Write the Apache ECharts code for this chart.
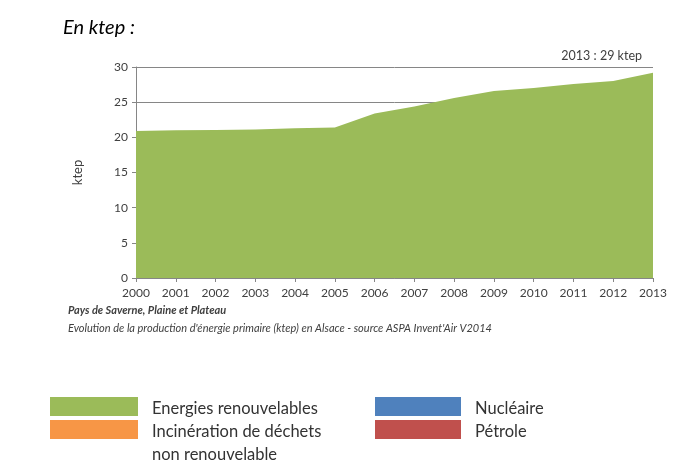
<!DOCTYPE html>
<html><head><meta charset="utf-8">
<script src="https://cdn.jsdelivr.net/npm/echarts@6/dist/echarts.min.js"></script>
<style>html,body{margin:0;padding:0;background:#fff}#c{width:689px;height:474px}</style>
</head><body><div id="c"></div>
<script>
const years = ['2000','2001','2002','2003','2004','2005','2006','2007','2008','2009','2010','2011','2012','2013'];
const renouvelables = [20.9, 21.0, 21.05, 21.1, 21.3, 21.4, 23.4, 24.4, 25.6, 26.6, 27.0, 27.6, 28.0, 29.2];
const yTicks = [0, 5, 10, 15, 20, 25, 30];
const legendLeft = ['Energies renouvelables', 'Incinération de déchets\nnon renouvelable'];
const legendRight = ['Nucléaire', 'Pétrole'];
const colorsLeft = ['#9BBB59', '#F79646'];
const colorsRight = ['#4F81BD', '#C0504D'];
const FONT = 'Lato, "Open Sans", sans-serif';

const chart = echarts.init(document.getElementById('c'));
const graphics = [
  {type:'text', left:63, top:18, style:{text:'En ktep :', font:'italic 20px '+FONT, fill:'#000'}},
  {type:'text', right:47, top:49, style:{text:'2013 : 29 ktep', font:'12.5px '+FONT, fill:'#404040'}},
  {type:'text', left:68, top:305, style:{text:'Pays de Saverne, Plaine et Plateau', font:'italic bold 11px '+FONT, fill:'#404040'}},
  {type:'text', left:68, top:323, style:{text:"Evolution de la production d'énergie primaire (ktep) en Alsace - source ASPA Invent'Air V2014", font:'italic 11px '+FONT, fill:'#404040'}}
];
legendLeft.forEach((t,i)=>{
  graphics.push({type:'rect', shape:{x:50, y:397+i*23, width:88, height:19}, style:{fill:colorsLeft[i]}});
  graphics.push({type:'text', left:152, top:397+i*23, style:{text:t, font:'16.5px '+FONT, fill:'#333', lineHeight:23}});
});
legendRight.forEach((t,i)=>{
  graphics.push({type:'rect', shape:{x:375, y:397+i*23, width:86, height:19}, style:{fill:colorsRight[i]}});
  graphics.push({type:'text', left:475, top:397+i*23, style:{text:t, font:'16.5px '+FONT, fill:'#333', lineHeight:23}});
});

chart.setOption({
  animation:false,
  grid:{left:136, right:36, top:67, bottom:196},
  xAxis:{type:'category', data:years, boundaryGap:false,
    axisLine:{lineStyle:{color:'#868686'}},
    axisTick:{show:true, length:4, lineStyle:{color:'#868686'}},
    axisLabel:{color:'#404040', fontSize:12, fontFamily:FONT, margin:9}},
  yAxis:{type:'value', min:yTicks[0], max:yTicks[yTicks.length-1], interval:5,
    name:'ktep', nameLocation:'middle', nameGap:52, nameRotate:90,
    nameTextStyle:{color:'#404040', fontSize:13, fontFamily:FONT},
    axisLine:{show:true, lineStyle:{color:'#868686'}},
    axisTick:{show:true, length:4, lineStyle:{color:'#868686'}},
    axisLabel:{color:'#404040', fontSize:12, fontFamily:FONT, margin:8},
    splitLine:{show:true, lineStyle:{color:'#868686', width:1}}},
  series:[{type:'line', name:legendLeft[0], data:renouvelables, symbol:'none',
    lineStyle:{width:0}, areaStyle:{color:colorsLeft[0], opacity:1}, z:3}],
  graphic:graphics
});
</script></body></html>
